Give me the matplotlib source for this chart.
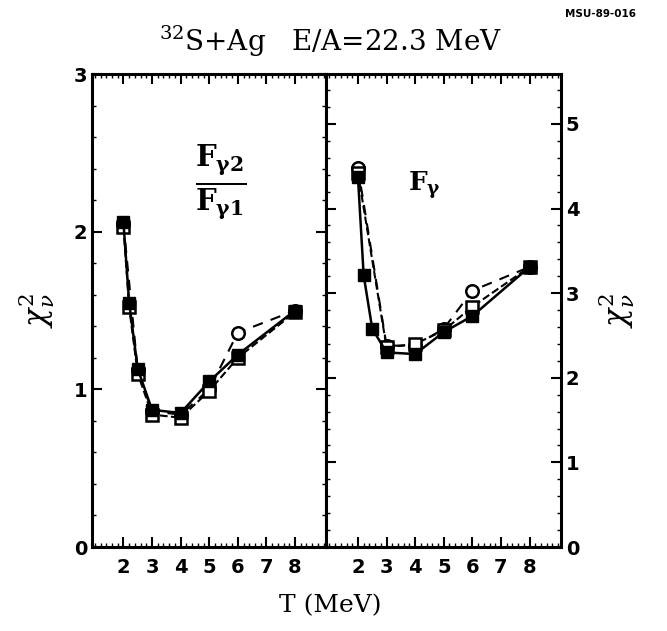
import numpy as np
import matplotlib
matplotlib.use('Agg')
import matplotlib.pyplot as plt
from matplotlib.ticker import MultipleLocator, FixedLocator

# Left panel: F_gamma2 / F_gamma1
T_left = [2.0, 2.2, 2.5, 3.0, 4.0, 5.0, 6.0, 8.0]
chi_left_filled = [2.06, 1.55, 1.13, 0.87, 0.85, 1.05, 1.22, 1.50]
chi_left_sq = [2.03, 1.52, 1.10, 0.84, 0.82, 0.99, 1.20, 1.49]
T_left_circ = [2.0, 2.5, 3.0, 4.0, 5.0, 6.0, 8.0]
chi_left_circ = [2.05, 1.12, 0.86, 0.84, 1.00, 1.36, 1.50]

# Right panel: F_gamma
T_right = [2.0, 2.2, 2.5, 3.0, 4.0, 5.0, 6.0, 8.0]
chi_right_filled = [4.37, 3.21, 2.58, 2.30, 2.28, 2.54, 2.73, 3.31]
T_right_open = [2.0, 3.0, 4.0, 5.0, 6.0, 8.0]
chi_right_sq = [4.42, 2.36, 2.40, 2.56, 2.84, 3.31]
chi_right_circ = [4.48, 2.38, 2.38, 2.58, 3.03, 3.31]

x_labels = ['2', '3', '4', '5', '6', '7', '8']

plt.rcParams['mathtext.fontset'] = 'dejavuserif'

fig = plt.figure(figsize=(6.67, 6.31), dpi=100)
ax1 = fig.add_axes([0.1379, 0.1331, 0.3516, 0.7496])
ax2 = fig.add_axes([0.4895, 0.1331, 0.3516, 0.7496])


def style_axis(ax, ymax):
    ax.set_xlim(0.9, 9.1)
    ax.set_ylim(0, ymax)
    ax.xaxis.set_major_locator(FixedLocator([2, 3, 4, 5, 6, 7, 8]))
    ax.xaxis.set_minor_locator(MultipleLocator(0.2))
    ax.yaxis.set_major_locator(MultipleLocator(1))
    ax.yaxis.set_minor_locator(MultipleLocator(0.2))
    ax.set_xticklabels(x_labels, fontweight='bold', fontsize=14)
    ax.tick_params(which='both', direction='in', top=True, right=True, left=True, bottom=True)
    ax.tick_params(which='major', length=7, width=1.5)
    ax.tick_params(which='minor', length=3, width=1.0)
    for s in ax.spines.values():
        s.set_linewidth(2.2)


style_axis(ax1, 3.0)
style_axis(ax2, 5.59)

ax1.set_yticks([0, 1, 2, 3])
ax1.set_yticklabels(['0', '1', '2', '3'], fontweight='bold', fontsize=14)
ax2.tick_params(labelleft=False, labelright=True)
ax2.set_yticks([0, 1, 2, 3, 4, 5])
ax2.set_yticklabels(['0', '1', '2', '3', '4', '5'], fontweight='bold', fontsize=14)
ax1.tick_params(axis='x', pad=8)
ax2.tick_params(axis='x', pad=8)

ms = 9
# left panel curves
ax1.plot(T_left_circ, chi_left_circ, ls=(0, (5, 4)), color='black', lw=1.5,
         marker='o', mfc='white', mec='black', mew=1.8, ms=ms)
ax1.plot(T_left, chi_left_sq, ls='--', color='black', lw=1.5,
         marker='s', mfc='white', mec='black', mew=1.8, ms=ms)
ax1.plot(T_left, chi_left_filled, ls='-', color='black', lw=1.8,
         marker='s', mfc='black', mec='black', ms=ms)

# right panel curves
ax2.plot(T_right_open, chi_right_circ, ls=(0, (5, 4)), color='black', lw=1.5,
         marker='o', mfc='white', mec='black', mew=1.8, ms=ms)
ax2.plot(T_right_open, chi_right_sq, ls='--', color='black', lw=1.5,
         marker='s', mfc='white', mec='black', mew=1.8, ms=ms)
ax2.plot(T_right, chi_right_filled, ls='-', color='black', lw=1.8,
         marker='s', mfc='black', mec='black', ms=ms)

ax1.text(0.55, 0.77, r'$\mathbf{\frac{F_{\gamma 2}}{F_{\gamma 1}}}$', transform=ax1.transAxes,
         ha='center', va='center', fontsize=30)
ax2.text(0.42, 0.765, r'$\mathbf{F_{\gamma}}$', transform=ax2.transAxes,
         ha='center', va='center', fontsize=19)

ax1.set_ylabel(r'$\chi^2_\nu$', fontsize=22, labelpad=12)
ax2.yaxis.set_label_position('right')
ax2.set_ylabel(r'$\chi^2_\nu$', fontsize=22, labelpad=12, rotation=90)

fig.text(0.495, 0.935, r'$^{32}$S+Ag   E/A=22.3 MeV', ha='center', va='center',
         fontsize=20, family='DejaVu Serif')
fig.text(0.90, 0.978, 'MSU-89-016', ha='center', va='center', fontsize=7.5,
         fontweight='bold', family='DejaVu Sans')
fig.text(0.495, 0.04, 'T (MeV)', ha='center', va='center', fontsize=18,
         family='DejaVu Serif')

plt.savefig('out.png', dpi=100)
plt.close()
